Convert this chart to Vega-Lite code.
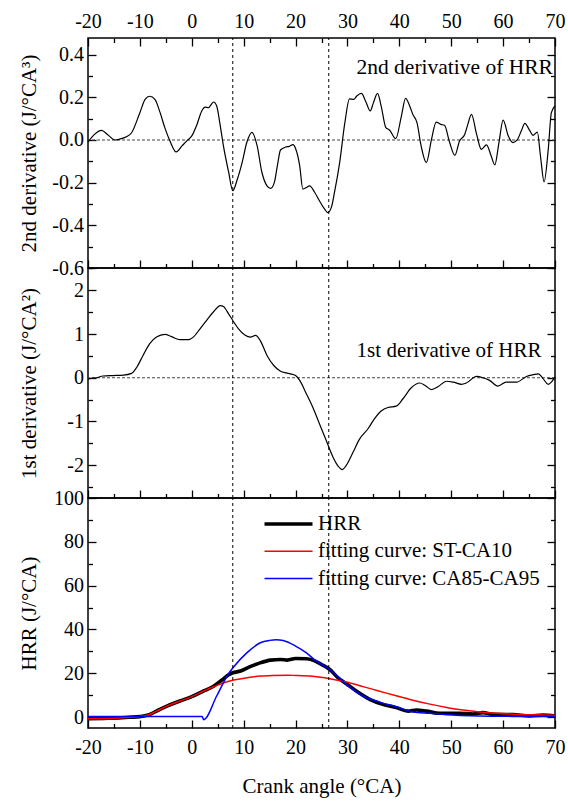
{
  "$schema": "https://vega.github.io/schema/vega-lite/v6.json",
  "background": "white",
  "padding": {"left": 17, "top": 6, "right": 10, "bottom": 5},
  "spacing": 0,
  "bounds": "flush",
  "resolve": {"legend": {"color": "independent", "strokeWidth": "independent"}},
  "config": {
    "font": "Liberation Serif",
    "style": {"guide-label": {"font": "Liberation Serif"}, "guide-title": {"font": "Liberation Serif"}},
    "view": {"stroke": "black", "strokeWidth": 1.5},
    "axis": {
      "domain": false,
      "grid": false,
      "tickColor": "black",
      "tickWidth": 1.3,
      "labelColor": "black",
      "labelFont": "Liberation Serif",
      "labelFontSize": 20,
      "titleColor": "black",
      "titleFont": "Liberation Serif",
      "titleFontSize": 21,
      "titleFontWeight": "normal",
      "labelOverlap": false,
      "labelFlush": false
    }
  },
  "datasets": {
    "d2": [
      {"ca": -20, "v": -0.01}, {"ca": -18.8, "v": 0.025}, {"ca": -17.4, "v": 0.045}, {"ca": -16.2, "v": 0.025},
      {"ca": -14.8, "v": 0.0}, {"ca": -13.9, "v": 0.004}, {"ca": -12.6, "v": 0.015}, {"ca": -11.6, "v": 0.034},
      {"ca": -10.0, "v": 0.128}, {"ca": -9.0, "v": 0.19}, {"ca": -8.1, "v": 0.205}, {"ca": -7.1, "v": 0.19},
      {"ca": -6.1, "v": 0.128}, {"ca": -5.2, "v": 0.058}, {"ca": -4.2, "v": -0.005}, {"ca": -3.0, "v": -0.056},
      {"ca": -1.9, "v": -0.028}, {"ca": -1.0, "v": -0.005}, {"ca": 0.0, "v": 0.019}, {"ca": 1.0, "v": 0.073},
      {"ca": 1.9, "v": 0.135}, {"ca": 2.6, "v": 0.154}, {"ca": 3.2, "v": 0.151}, {"ca": 4.2, "v": 0.178},
      {"ca": 4.8, "v": 0.159}, {"ca": 5.5, "v": 0.065}, {"ca": 6.1, "v": -0.028}, {"ca": 7.1, "v": -0.15},
      {"ca": 7.9, "v": -0.238}, {"ca": 8.7, "v": -0.19}, {"ca": 9.7, "v": -0.106}, {"ca": 10.6, "v": -0.012},
      {"ca": 11.6, "v": 0.036}, {"ca": 12.6, "v": -0.028}, {"ca": 13.5, "v": -0.15}, {"ca": 14.5, "v": -0.215},
      {"ca": 15.2, "v": -0.227}, {"ca": 15.9, "v": -0.2}, {"ca": 16.5, "v": -0.12}, {"ca": 17.1, "v": -0.047},
      {"ca": 18.1, "v": -0.033}, {"ca": 18.8, "v": -0.03}, {"ca": 19.5, "v": -0.022}, {"ca": 20.0, "v": -0.04},
      {"ca": 20.8, "v": -0.121}, {"ca": 21.4, "v": -0.23}, {"ca": 22.1, "v": -0.223}, {"ca": 22.7, "v": -0.215},
      {"ca": 23.7, "v": -0.246}, {"ca": 24.6, "v": -0.285}, {"ca": 25.6, "v": -0.324}, {"ca": 26.2, "v": -0.34},
      {"ca": 26.9, "v": -0.316}, {"ca": 27.5, "v": -0.246}, {"ca": 28.5, "v": -0.106}, {"ca": 29.5, "v": 0.081},
      {"ca": 30.4, "v": 0.193}, {"ca": 31.2, "v": 0.19}, {"ca": 31.8, "v": 0.206}, {"ca": 32.7, "v": 0.218},
      {"ca": 33.5, "v": 0.182}, {"ca": 34.4, "v": 0.136}, {"ca": 35.0, "v": 0.174}, {"ca": 35.8, "v": 0.218},
      {"ca": 36.5, "v": 0.159}, {"ca": 37.4, "v": 0.058}, {"ca": 38.1, "v": 0.047}, {"ca": 39.3, "v": 0.006},
      {"ca": 40.4, "v": 0.112}, {"ca": 41.2, "v": 0.195}, {"ca": 42.0, "v": 0.159}, {"ca": 42.6, "v": 0.12},
      {"ca": 43.4, "v": 0.081}, {"ca": 44.2, "v": -0.028}, {"ca": 45.2, "v": -0.106}, {"ca": 46.2, "v": 0.003},
      {"ca": 47.1, "v": 0.084}, {"ca": 48.0, "v": 0.073}, {"ca": 48.7, "v": 0.069}, {"ca": 49.7, "v": -0.012},
      {"ca": 50.7, "v": -0.072}, {"ca": 51.6, "v": -0.005}, {"ca": 52.6, "v": 0.026}, {"ca": 53.2, "v": 0.073},
      {"ca": 53.9, "v": 0.12}, {"ca": 54.9, "v": 0.026}, {"ca": 55.8, "v": -0.044}, {"ca": 56.8, "v": -0.023},
      {"ca": 57.7, "v": -0.075}, {"ca": 58.4, "v": -0.117}, {"ca": 59.2, "v": -0.012}, {"ca": 60.0, "v": 0.093},
      {"ca": 61.0, "v": 0.019}, {"ca": 61.9, "v": -0.012}, {"ca": 62.7, "v": 0.0}, {"ca": 63.5, "v": 0.042},
      {"ca": 64.2, "v": 0.078}, {"ca": 65.0, "v": 0.05}, {"ca": 65.8, "v": 0.022}, {"ca": 66.6, "v": 0.037},
      {"ca": 67.2, "v": -0.075}, {"ca": 67.9, "v": -0.196}, {"ca": 68.7, "v": -0.044}, {"ca": 69.3, "v": 0.128},
      {"ca": 70.0, "v": 0.159}
    ],
    "d1": [
      {"ca": -20, "v": -0.03}, {"ca": -19.7, "v": -0.02}, {"ca": -18.4, "v": 0.0}, {"ca": -17.1, "v": 0.04},
      {"ca": -15.2, "v": 0.05}, {"ca": -13.2, "v": 0.06}, {"ca": -11.6, "v": 0.1}, {"ca": -10.6, "v": 0.24},
      {"ca": -9.4, "v": 0.51}, {"ca": -8.1, "v": 0.78}, {"ca": -6.8, "v": 0.93}, {"ca": -5.2, "v": 0.99},
      {"ca": -3.9, "v": 0.94}, {"ca": -2.3, "v": 0.87}, {"ca": -0.6, "v": 0.87}, {"ca": 0.3, "v": 0.93},
      {"ca": 1.6, "v": 1.12}, {"ca": 2.9, "v": 1.32}, {"ca": 4.2, "v": 1.51}, {"ca": 5.5, "v": 1.65},
      {"ca": 6.1, "v": 1.63}, {"ca": 7.1, "v": 1.46}, {"ca": 7.9, "v": 1.31}, {"ca": 9.0, "v": 1.12},
      {"ca": 10.3, "v": 0.97}, {"ca": 11.3, "v": 0.93}, {"ca": 12.3, "v": 0.97}, {"ca": 13.2, "v": 0.85},
      {"ca": 14.5, "v": 0.51}, {"ca": 15.8, "v": 0.28}, {"ca": 17.1, "v": 0.15}, {"ca": 18.2, "v": 0.11},
      {"ca": 19.0, "v": 0.09}, {"ca": 20.0, "v": 0.05}, {"ca": 20.8, "v": -0.06}, {"ca": 22.1, "v": -0.37},
      {"ca": 23.3, "v": -0.67}, {"ca": 24.6, "v": -1.05}, {"ca": 25.9, "v": -1.43}, {"ca": 27.2, "v": -1.81},
      {"ca": 28.2, "v": -2.02}, {"ca": 29.0, "v": -2.1}, {"ca": 29.8, "v": -2.0}, {"ca": 31.1, "v": -1.7},
      {"ca": 32.3, "v": -1.41}, {"ca": 34.0, "v": -1.16}, {"ca": 35.2, "v": -0.94}, {"ca": 36.5, "v": -0.76},
      {"ca": 37.8, "v": -0.68}, {"ca": 39.4, "v": -0.65}, {"ca": 40.7, "v": -0.48}, {"ca": 42.3, "v": -0.23},
      {"ca": 43.9, "v": -0.12}, {"ca": 44.9, "v": -0.17}, {"ca": 46.2, "v": -0.27}, {"ca": 47.5, "v": -0.2},
      {"ca": 49.1, "v": -0.08}, {"ca": 50.4, "v": -0.1}, {"ca": 52.0, "v": -0.15}, {"ca": 52.9, "v": -0.12},
      {"ca": 54.9, "v": 0.03}, {"ca": 56.1, "v": 0.0}, {"ca": 57.4, "v": -0.06}, {"ca": 59.0, "v": -0.19},
      {"ca": 60.6, "v": -0.1}, {"ca": 62.6, "v": -0.1}, {"ca": 64.5, "v": 0.03}, {"ca": 65.8, "v": 0.07},
      {"ca": 66.8, "v": 0.09}, {"ca": 67.7, "v": -0.02}, {"ca": 68.7, "v": -0.15}, {"ca": 69.3, "v": -0.1},
      {"ca": 70.0, "v": 0.02}
    ],
    "hrr": [
      {"series": "HRR", "ca": -20, "v": -0.8}, {"series": "HRR", "ca": -17, "v": -0.6}, {"series": "HRR", "ca": -15, "v": -0.5},
      {"series": "HRR", "ca": -12, "v": -0.1}, {"series": "HRR", "ca": -10, "v": 0.2}, {"series": "HRR", "ca": -8.4, "v": 0.9},
      {"series": "HRR", "ca": -6.8, "v": 2.7}, {"series": "HRR", "ca": -4.8, "v": 5.0}, {"series": "HRR", "ca": -2.3, "v": 7.3},
      {"series": "HRR", "ca": 0, "v": 9.3}, {"series": "HRR", "ca": 2.3, "v": 11.9}, {"series": "HRR", "ca": 4.2, "v": 14.1},
      {"series": "HRR", "ca": 5.8, "v": 16.9}, {"series": "HRR", "ca": 7.1, "v": 19.3}, {"series": "HRR", "ca": 7.9, "v": 20.2},
      {"series": "HRR", "ca": 9.4, "v": 21.0}, {"series": "HRR", "ca": 11.0, "v": 22.8}, {"series": "HRR", "ca": 12.9, "v": 24.5},
      {"series": "HRR", "ca": 15.2, "v": 26.0}, {"series": "HRR", "ca": 17.1, "v": 26.3}, {"series": "HRR", "ca": 18.4, "v": 26.0},
      {"series": "HRR", "ca": 20.0, "v": 26.7}, {"series": "HRR", "ca": 22.1, "v": 26.6}, {"series": "HRR", "ca": 23.3, "v": 26.0},
      {"series": "HRR", "ca": 25.0, "v": 24.0}, {"series": "HRR", "ca": 26.6, "v": 21.7}, {"series": "HRR", "ca": 28.2, "v": 17.9},
      {"series": "HRR", "ca": 29.8, "v": 15.2}, {"series": "HRR", "ca": 31.7, "v": 11.9}, {"series": "HRR", "ca": 34.3, "v": 8.1},
      {"series": "HRR", "ca": 36.8, "v": 5.8}, {"series": "HRR", "ca": 39.4, "v": 4.3}, {"series": "HRR", "ca": 41.7, "v": 2.7},
      {"series": "HRR", "ca": 43.3, "v": 3.2}, {"series": "HRR", "ca": 45.2, "v": 2.7}, {"series": "HRR", "ca": 47.8, "v": 1.7},
      {"series": "HRR", "ca": 51.6, "v": 1.7}, {"series": "HRR", "ca": 54.2, "v": 1.4}, {"series": "HRR", "ca": 56.1, "v": 2.0},
      {"series": "HRR", "ca": 58.1, "v": 1.2}, {"series": "HRR", "ca": 61.9, "v": 1.1}, {"series": "HRR", "ca": 65.1, "v": 0.5},
      {"series": "HRR", "ca": 67.7, "v": 0.9}, {"series": "HRR", "ca": 70, "v": 0.5},
      {"series": "fitting curve: ST-CA10", "ca": -20, "v": -0.8}, {"series": "fitting curve: ST-CA10", "ca": -15, "v": -0.5},
      {"series": "fitting curve: ST-CA10", "ca": -10, "v": 0.2}, {"series": "fitting curve: ST-CA10", "ca": -8.4, "v": 0.9},
      {"series": "fitting curve: ST-CA10", "ca": -6.8, "v": 2.7}, {"series": "fitting curve: ST-CA10", "ca": -4.8, "v": 5.0},
      {"series": "fitting curve: ST-CA10", "ca": -2.3, "v": 7.3}, {"series": "fitting curve: ST-CA10", "ca": 0, "v": 9.3},
      {"series": "fitting curve: ST-CA10", "ca": 2.3, "v": 11.9}, {"series": "fitting curve: ST-CA10", "ca": 4.2, "v": 13.8},
      {"series": "fitting curve: ST-CA10", "ca": 5.8, "v": 15.3}, {"series": "fitting curve: ST-CA10", "ca": 8.1, "v": 16.9},
      {"series": "fitting curve: ST-CA10", "ca": 10.6, "v": 17.9}, {"series": "fitting curve: ST-CA10", "ca": 13.2, "v": 18.7},
      {"series": "fitting curve: ST-CA10", "ca": 15.8, "v": 19.0}, {"series": "fitting curve: ST-CA10", "ca": 18.4, "v": 19.1},
      {"series": "fitting curve: ST-CA10", "ca": 20.0, "v": 19.0}, {"series": "fitting curve: ST-CA10", "ca": 23.3, "v": 18.6},
      {"series": "fitting curve: ST-CA10", "ca": 26.6, "v": 17.5}, {"series": "fitting curve: ST-CA10", "ca": 29.8, "v": 16.0},
      {"series": "fitting curve: ST-CA10", "ca": 33.0, "v": 13.9}, {"series": "fitting curve: ST-CA10", "ca": 36.2, "v": 11.8},
      {"series": "fitting curve: ST-CA10", "ca": 39.4, "v": 9.7}, {"series": "fitting curve: ST-CA10", "ca": 42.6, "v": 7.7},
      {"series": "fitting curve: ST-CA10", "ca": 45.9, "v": 5.9}, {"series": "fitting curve: ST-CA10", "ca": 49.1, "v": 4.4},
      {"series": "fitting curve: ST-CA10", "ca": 52.3, "v": 3.2}, {"series": "fitting curve: ST-CA10", "ca": 55.5, "v": 2.3},
      {"series": "fitting curve: ST-CA10", "ca": 58.7, "v": 1.7}, {"series": "fitting curve: ST-CA10", "ca": 61.9, "v": 1.3},
      {"series": "fitting curve: ST-CA10", "ca": 65.8, "v": 1.0}, {"series": "fitting curve: ST-CA10", "ca": 70, "v": 0.8},
      {"series": "fitting curve: CA85-CA95", "ca": -20, "v": 0.2}, {"series": "fitting curve: CA85-CA95", "ca": 2.0, "v": 0.2},
      {"series": "fitting curve: CA85-CA95", "ca": 2.3, "v": -1.2}, {"series": "fitting curve: CA85-CA95", "ca": 4.8, "v": 9.6},
      {"series": "fitting curve: CA85-CA95", "ca": 7.0, "v": 19.5}, {"series": "fitting curve: CA85-CA95", "ca": 8.1, "v": 23.0},
      {"series": "fitting curve: CA85-CA95", "ca": 10.6, "v": 29.3}, {"series": "fitting curve: CA85-CA95", "ca": 13.2, "v": 33.9},
      {"series": "fitting curve: CA85-CA95", "ca": 15.0, "v": 35.0}, {"series": "fitting curve: CA85-CA95", "ca": 16.3, "v": 35.3},
      {"series": "fitting curve: CA85-CA95", "ca": 17.6, "v": 34.9}, {"series": "fitting curve: CA85-CA95", "ca": 20.0, "v": 32.4},
      {"series": "fitting curve: CA85-CA95", "ca": 22.1, "v": 29.3}, {"series": "fitting curve: CA85-CA95", "ca": 24.0, "v": 25.5},
      {"series": "fitting curve: CA85-CA95", "ca": 26.6, "v": 21.7}, {"series": "fitting curve: CA85-CA95", "ca": 29.8, "v": 14.9},
      {"series": "fitting curve: CA85-CA95", "ca": 33.0, "v": 9.6}, {"series": "fitting curve: CA85-CA95", "ca": 36.2, "v": 6.8},
      {"series": "fitting curve: CA85-CA95", "ca": 39.4, "v": 4.7}, {"series": "fitting curve: CA85-CA95", "ca": 42.6, "v": 2.3},
      {"series": "fitting curve: CA85-CA95", "ca": 45.9, "v": 1.7}, {"series": "fitting curve: CA85-CA95", "ca": 49.1, "v": 1.1},
      {"series": "fitting curve: CA85-CA95", "ca": 55.5, "v": 0.5}, {"series": "fitting curve: CA85-CA95", "ca": 61.9, "v": 0.3},
      {"series": "fitting curve: CA85-CA95", "ca": 70, "v": 0.2}
    ],
    "markers": [{"ca": 7.9}, {"ca": 26.4}],
    "single": [{}]
  },
  "vconcat": [
    {
      "width": 467,
      "height": 230,
      "layer": [
        {
          "data": {"name": "single"},
          "mark": {"type": "rule", "color": "#444", "strokeWidth": 1.2, "strokeDash": [3, 2]},
          "encoding": {
            "y": {"datum": 0, "type": "quantitative", "scale": {"domain": [-0.6, 0.478], "nice": false, "zero": false}, "axis": null}
          }
        },
        {
          "data": {"name": "d2"},
          "mark": {"type": "line", "color": "black", "strokeWidth": 1.2, "interpolate": "monotone"},
          "encoding": {
            "x": {"field": "ca", "type": "quantitative", "scale": {"domain": [-20, 70], "nice": false, "zero": false},
              "axis": {"orient": "bottom", "values": [-20, -15, -10, -5, 0, 5, 10, 15, 20, 25, 30, 35, 40, 45, 50, 55, 60, 65, 70], "labels": false, "title": null,
                "tickSize": {"condition": {"test": "datum.value % 10 === 0", "value": -8}, "value": -4.5}}},
            "y": {"field": "v", "type": "quantitative", "scale": {"domain": [-0.6, 0.478], "nice": false, "zero": false},
              "axis": {"orient": "left", "values": [-0.6, -0.5, -0.4, -0.3, -0.2, -0.1, 0, 0.1, 0.2, 0.3, 0.4],
                "labelExpr": "abs(datum.value*5-round(datum.value*5))<1e-6 ? replace(format(datum.value,'.1f'),'\u2212','-') : ''",
                "tickSize": {"condition": {"test": "abs(datum.value*5-round(datum.value*5))<1e-6", "value": -8}, "value": -4.5},
                "labelFont": "Liberation Serif", "labelPadding": 12.5, "title": "2nd derivative (J/°CA³)", "titleX": -53, "titleBaseline": "alphabetic"}}
          }
        },
        {
          "data": {"name": "markers"},
          "mark": {"type": "rule", "color": "black", "strokeWidth": 1, "strokeDash": [3, 3]},
          "encoding": {
            "x": {"field": "ca", "type": "quantitative", "scale": {"domain": [-20, 70], "nice": false, "zero": false},
              "axis": {"orient": "top", "values": [-20, -15, -10, -5, 0, 5, 10, 15, 20, 25, 30, 35, 40, 45, 50, 55, 60, 65, 70],
                "labelExpr": "datum.value % 10 === 0 ? replace(format(datum.value,'d'),'\u2212','-') : ''",
                "tickSize": {"condition": {"test": "datum.value % 10 === 0", "value": -8}, "value": -4.5},
                "labelFont": "Liberation Serif", "labelPadding": 15, "title": null}},
            "y": {"datum": -0.6, "type": "quantitative", "scale": {"domain": [-0.6, 0.478], "nice": false, "zero": false},
              "axis": {"orient": "right", "values": [-0.6, -0.5, -0.4, -0.3, -0.2, -0.1, 0, 0.1, 0.2, 0.3, 0.4], "labels": false, "title": null,
                "tickSize": {"condition": {"test": "abs(datum.value*5-round(datum.value*5))<1e-6", "value": -8}, "value": -4.5}}},
            "y2": {"datum": 0.478}
          }
        },
        {
          "data": {"name": "single"},
          "mark": {"type": "text", "text": "2nd derivative of HRR", "align": "right", "baseline": "alphabetic", "fontSize": 21.5, "font": "Liberation Serif", "color": "black"},
          "encoding": {
            "x": {"datum": 69.6, "type": "quantitative", "scale": {"domain": [-20, 70], "nice": false, "zero": false}, "axis": null},
            "y": {"datum": 0.307, "type": "quantitative", "scale": {"domain": [-0.6, 0.478], "nice": false, "zero": false}, "axis": null}
          }
        }
      ],
      "resolve": {"scale": {"x": "independent", "y": "independent"}}
    },
    {
      "width": 467,
      "height": 230,
      "layer": [
        {
          "data": {"name": "single"},
          "mark": {"type": "rule", "color": "#444", "strokeWidth": 1.2, "strokeDash": [3, 2]},
          "encoding": {
            "y": {"datum": 0, "type": "quantitative", "scale": {"domain": [-2.75, 2.51], "nice": false, "zero": false}, "axis": null}
          }
        },
        {
          "data": {"name": "d1"},
          "mark": {"type": "line", "color": "black", "strokeWidth": 1.2, "interpolate": "monotone"},
          "encoding": {
            "x": {"field": "ca", "type": "quantitative", "scale": {"domain": [-20, 70], "nice": false, "zero": false},
              "axis": {"orient": "bottom", "values": [-20, -15, -10, -5, 0, 5, 10, 15, 20, 25, 30, 35, 40, 45, 50, 55, 60, 65, 70], "labels": false, "title": null,
                "tickSize": {"condition": {"test": "datum.value % 10 === 0", "value": -8}, "value": -4.5}}},
            "y": {"field": "v", "type": "quantitative", "scale": {"domain": [-2.75, 2.51], "nice": false, "zero": false},
              "axis": {"orient": "left", "values": [-2.5, -2, -1.5, -1, -0.5, 0, 0.5, 1, 1.5, 2, 2.5],
                "labelExpr": "abs(datum.value-round(datum.value))<1e-6 ? replace(format(datum.value,'d'),'\u2212','-') : ''",
                "tickSize": {"condition": {"test": "abs(datum.value-round(datum.value))<1e-6", "value": -8}, "value": -4.5},
                "labelFont": "Liberation Serif", "labelPadding": 12.5, "title": "1st derivative (J/°CA²)", "titleX": -53, "titleBaseline": "alphabetic"}}
          }
        },
        {
          "data": {"name": "markers"},
          "mark": {"type": "rule", "color": "black", "strokeWidth": 1, "strokeDash": [3, 3]},
          "encoding": {
            "x": {"field": "ca", "type": "quantitative", "scale": {"domain": [-20, 70], "nice": false, "zero": false}, "axis": null},
            "y": {"datum": -2.75, "type": "quantitative", "scale": {"domain": [-2.75, 2.51], "nice": false, "zero": false},
              "axis": {"orient": "right", "values": [-2.5, -2, -1.5, -1, -0.5, 0, 0.5, 1, 1.5, 2, 2.5], "labels": false, "title": null,
                "tickSize": {"condition": {"test": "abs(datum.value-round(datum.value))<1e-6", "value": -8}, "value": -4.5}}},
            "y2": {"datum": 2.51}
          }
        },
        {
          "data": {"name": "single"},
          "mark": {"type": "text", "text": "1st derivative of HRR", "align": "right", "baseline": "alphabetic", "fontSize": 21, "font": "Liberation Serif", "color": "black"},
          "encoding": {
            "x": {"datum": 67.4, "type": "quantitative", "scale": {"domain": [-20, 70], "nice": false, "zero": false}, "axis": null},
            "y": {"datum": 0.47, "type": "quantitative", "scale": {"domain": [-2.75, 2.51], "nice": false, "zero": false}, "axis": null}
          }
        }
      ],
      "resolve": {"scale": {"x": "independent", "y": "independent"}}
    },
    {
      "width": 467,
      "height": 230,
      "layer": [
        {
          "data": {"name": "hrr"},
          "mark": {"type": "line", "interpolate": "monotone"},
          "encoding": {
            "x": {"field": "ca", "type": "quantitative", "scale": {"domain": [-20, 70], "nice": false, "zero": false},
              "axis": {"orient": "bottom", "values": [-20, -15, -10, -5, 0, 5, 10, 15, 20, 25, 30, 35, 40, 45, 50, 55, 60, 65, 70],
                "labelExpr": "datum.value % 10 === 0 ? replace(format(datum.value,'d'),'\u2212','-') : ''",
                "tickSize": {"condition": {"test": "datum.value % 10 === 0", "value": -8}, "value": -4.5},
                "labelFont": "Liberation Serif", "labelPadding": 17, "title": "Crank angle (°CA)", "titlePadding": 15}},
            "y": {"field": "v", "type": "quantitative", "scale": {"domain": [-5, 100], "nice": false, "zero": false},
              "axis": {"orient": "left", "values": [0, 10, 20, 30, 40, 50, 60, 70, 80, 90, 100],
                "labelExpr": "datum.value % 20 === 0 ? format(datum.value,'d') : ''",
                "tickSize": {"condition": {"test": "datum.value % 20 === 0", "value": -8}, "value": -4.5},
                "labelFont": "Liberation Serif", "labelPadding": 12.5, "title": "HRR (J/°CA)", "titleX": -53, "titleBaseline": "alphabetic"}},
            "color": {"field": "series", "type": "nominal",
              "scale": {"domain": ["HRR", "fitting curve: ST-CA10", "fitting curve: CA85-CA95"], "range": ["black", "red", "blue"]},
              "legend": {"orient": "none", "legendX": 190, "legendY": 15.5, "title": null, "symbolType": "M-4,0H4", "symbolSize": 144,
                "labelFontSize": 21, "labelFont": "Liberation Serif", "labelColor": "black", "labelOffset": 19, "rowPadding": 5.3, "labelLimit": 400,
                "encode": {"symbols": {"update": {"strokeWidth": {"signal": "datum.value === 'HRR' ? 4 : 1.6"}}}}}},
            "strokeWidth": {"field": "series", "type": "nominal",
              "scale": {"type": "ordinal", "domain": ["HRR", "fitting curve: ST-CA10", "fitting curve: CA85-CA95"], "range": [3.6, 1.5, 1.5]}, "legend": null}
          }
        },
        {
          "data": {"name": "markers"},
          "mark": {"type": "rule", "color": "black", "strokeWidth": 1, "strokeDash": [3, 3]},
          "encoding": {
            "x": {"field": "ca", "type": "quantitative", "scale": {"domain": [-20, 70], "nice": false, "zero": false}, "axis": null},
            "y": {"datum": -5, "type": "quantitative", "scale": {"domain": [-5, 100], "nice": false, "zero": false},
              "axis": {"orient": "right", "values": [0, 10, 20, 30, 40, 50, 60, 70, 80, 90, 100], "labels": false, "title": null,
                "tickSize": {"condition": {"test": "datum.value % 20 === 0", "value": -8}, "value": -4.5}}},
            "y2": {"datum": 100}
          }
        }
      ],
      "resolve": {"scale": {"x": "independent", "y": "independent"}}
    }
  ]
}
